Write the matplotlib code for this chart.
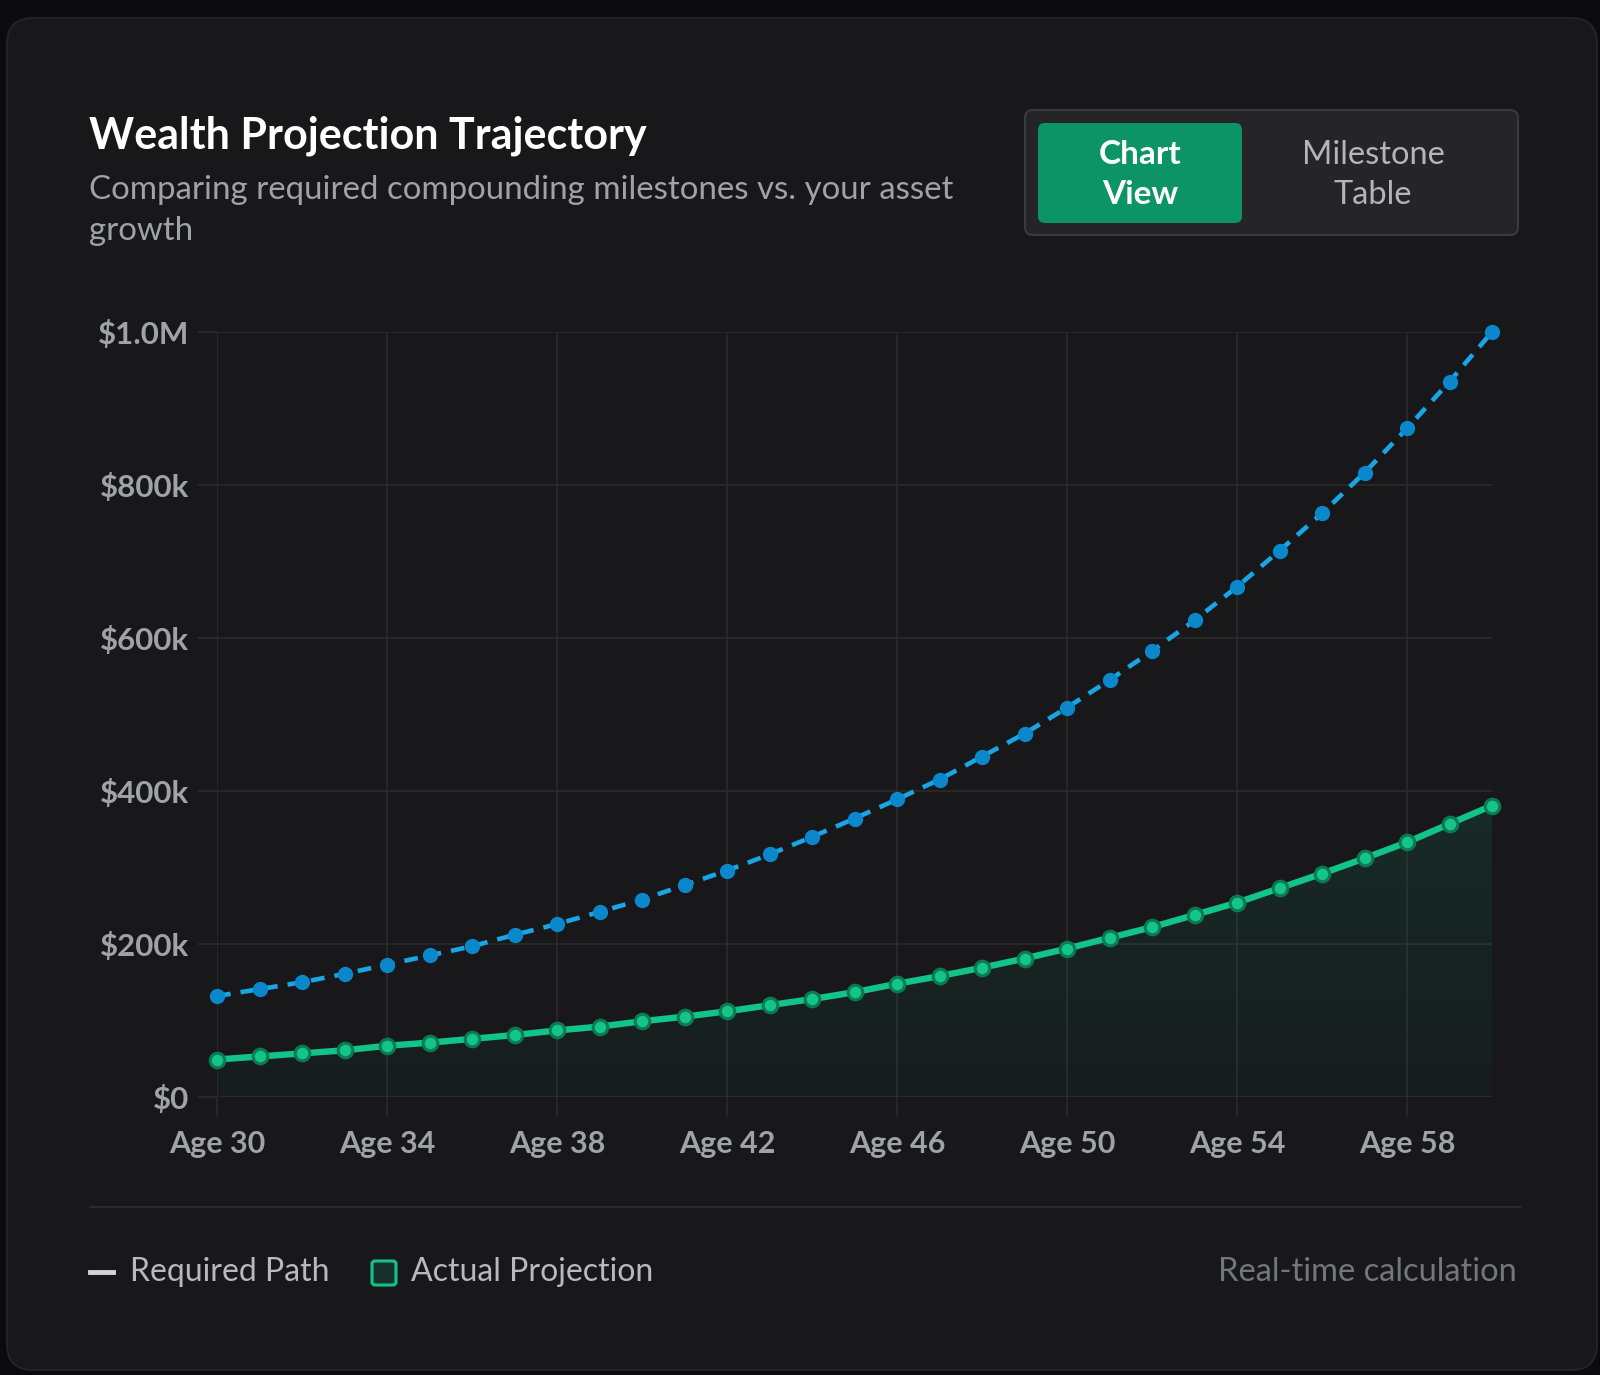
import matplotlib
matplotlib.use("Agg")
import matplotlib.pyplot as plt
from matplotlib.patches import FancyBboxPatch
from matplotlib.colors import LinearSegmentedColormap
import numpy as np

# ---------------- data ----------------
ages = list(range(30, 61))
required_path = [132, 141, 150, 161, 173, 185, 197, 212, 226, 242, 258, 277, 296, 317,
                 340, 364, 389, 415, 445, 475, 509, 545, 583, 623, 667, 714, 763, 816,
                 874, 935, 1000]  # thousands $
actual_projection = [49, 53, 57, 61, 67, 71, 76, 81, 87, 92, 99, 105, 112, 120, 128, 137,
                     148, 158, 169, 181, 194, 208, 222, 238, 254, 273, 292, 312, 333,
                     357, 381]  # thousands $
x_ticks = [30, 34, 38, 42, 46, 50, 54, 58]
x_tick_labels = ["Age 30", "Age 34", "Age 38", "Age 42", "Age 46", "Age 50", "Age 54", "Age 58"]
y_ticks = [0, 200, 400, 600, 800, 1000]
y_tick_labels = ["$0", "$200k", "$400k", "$600k", "$800k", "$1.0M"]

# ---------------- style ----------------
W, H = 1600, 1375
FONT = ["Lato", "DejaVu Sans"]
plt.rcParams["font.family"] = FONT

fig = plt.figure(figsize=(W / 100, H / 100), dpi=100)
fig.patch.set_facecolor("#0b0b0d")

def fx(px):
    return px / W

def fy(py):
    return 1 - py / H

def rbox(x0, y0, x1, y1, r, fc, ec="none", lw=0, z=0):
    p = FancyBboxPatch((fx(x0), fy(y1)), fx(x1 - x0), (y1 - y0) / H,
                       boxstyle=f"round,pad=0,rounding_size={r / W}",
                       transform=fig.transFigure, fc=fc, ec=ec, lw=lw, zorder=z,
                       mutation_aspect=W / H)
    fig.add_artist(p)
    return p

# card
rbox(7, 18, 1597, 1370, 26, "#18181b", ec="#232327", lw=1.5, z=0)

# title & subtitle
fig.text(fx(89), fy(136), "Wealth Projection Trajectory", color="white",
         fontsize=31, fontweight="bold", va="center", ha="left")
fig.text(fx(89), fy(190), "Comparing required compounding milestones vs. your asset",
         color="#a1a1aa", fontsize=23.8, va="center", ha="left")
fig.text(fx(89), fy(231), "growth", color="#a1a1aa", fontsize=23.8, va="center", ha="left")

# toggle
rbox(1025, 110, 1518, 235, 8, "#252528", ec="#3a3a3f", lw=1.5, z=1)
rbox(1038, 123, 1242, 223, 7, "#0c9467", z=2)
fig.text(fx(1140), fy(155), "Chart", color="white", fontsize=24, fontweight="bold",
         ha="center", va="center", zorder=3)
fig.text(fx(1140), fy(195), "View", color="white", fontsize=24, fontweight="bold",
         ha="center", va="center", zorder=3)
fig.text(fx(1373), fy(155), "Milestone", color="#b4b4bb", fontsize=23.5,
         ha="center", va="center", zorder=3)
fig.text(fx(1373), fy(195), "Table", color="#b4b4bb", fontsize=23.5,
         ha="center", va="center", zorder=3)

# ---------------- axes ----------------
L, R, T, B = 217, 1492, 332, 1097
ax = fig.add_axes([fx(L), fy(B), fx(R - L), (B - T) / H])
ax.set_facecolor("none")
for s in ax.spines.values():
    s.set_visible(False)

grid_c = "#2a2a2f"
ax.set_xlim(30, 60)
ax.set_ylim(0, 1000)
ax.set_xticks(x_ticks)
ax.set_xticklabels(x_tick_labels)
ax.set_yticks(y_ticks)
ax.set_yticklabels(y_tick_labels)
ax.grid(True, color=grid_c, lw=1.2)
ax.set_axisbelow(True)
ax.tick_params(axis="both", length=14, width=1.2, color=grid_c, labelcolor="#a1a1aa")
ax.tick_params(axis="x", pad=10, labelsize=22)
ax.tick_params(axis="y", pad=6, labelsize=22.5)
for lab in ax.get_xticklabels() + ax.get_yticklabels():
    lab.set_fontweight("bold")

# gradient fill under actual projection
fill = ax.fill_between(ages, actual_projection, 0, color="none", lw=0)
grad = np.linspace(0, 1, 256).reshape(-1, 1)
cmap = LinearSegmentedColormap.from_list(
    "g", [(0.063, 0.725, 0.506, 0.03), (0.063, 0.725, 0.506, 0.12)])
im = ax.imshow(grad, extent=[30, 60, 0, max(actual_projection)], origin="lower",
               cmap=cmap, aspect="auto", zorder=1)
im.set_clip_path(fill.get_paths()[0], transform=ax.transData)
ax.set_xlim(30, 60)
ax.set_ylim(0, 1000)

ax.plot(ages, required_path, color="#19a6e6", lw=3.3, linestyle=(0, (3, 2.2)),
        marker="o", markersize=10, markerfacecolor="#0b87cc", markeredgecolor="#0b87cc",
        zorder=4, dash_capstyle="butt", clip_on=False)
ax.plot(ages, actual_projection, color="#12c48a", lw=4.6,
        marker="o", markersize=10.5, markerfacecolor="#14c587", markeredgecolor="#0a7a55",
        markeredgewidth=2.2, zorder=5, clip_on=False)

# separator
fig.add_artist(plt.Line2D([fx(90), fx(1520)], [fy(1207), fy(1207)],
                          transform=fig.transFigure, color="#2a2a2f", lw=1.5))

# legend
LY = 1272
fig.add_artist(plt.Line2D([fx(90), fx(113)], [fy(LY), fy(LY)],
                          transform=fig.transFigure, color="#d4d4d8", lw=3.5))
fig.text(fx(130), fy(LY), "Required Path", color="#b8b8bf", fontsize=23,
         ha="left", va="center")
rbox(372, LY - 11, 396, LY + 13, 3, "#16302a", ec="#12c48a", lw=2.2, z=3)
fig.text(fx(411), fy(LY), "Actual Projection", color="#b8b8bf", fontsize=23,
         ha="left", va="center")
fig.text(fx(1517), fy(LY), "Real-time calculation", color="#75757d", fontsize=23.5,
         ha="right", va="center")

fig.savefig("out.png", dpi=100, facecolor=fig.get_facecolor())
